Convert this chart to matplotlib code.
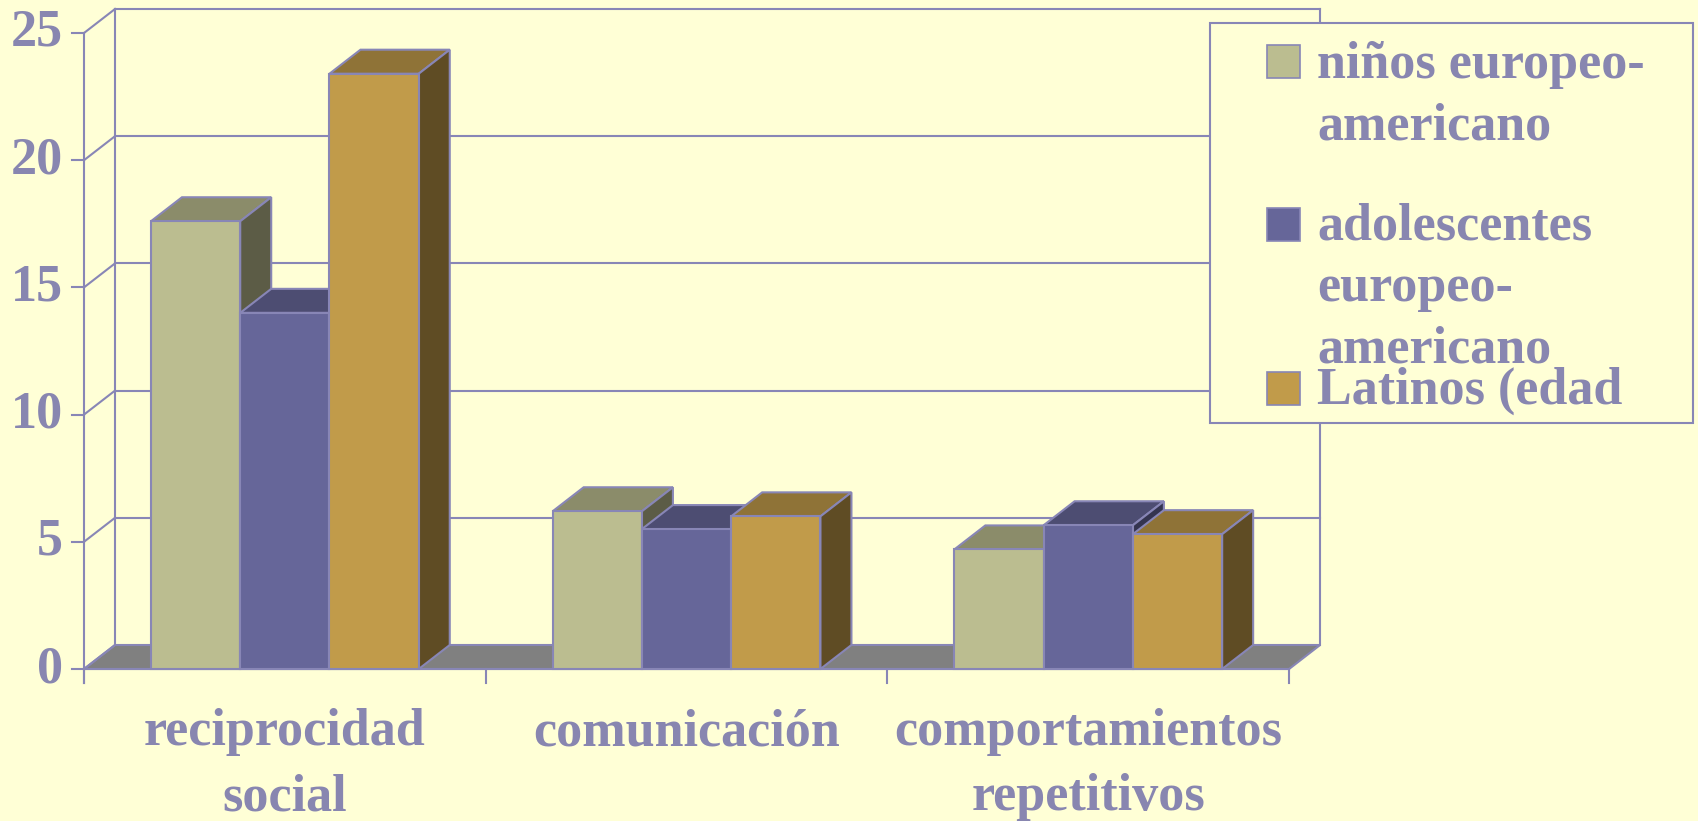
import matplotlib
matplotlib.use("Agg")
import matplotlib.pyplot as plt
from matplotlib.patches import Polygon, Rectangle

# data
categories = ["reciprocidad\nsocial", "comunicación", "comportamientos\nrepetitivos"]
series = ["niños europeo-\namericano",
          "adolescentes\neuropeo-\namericano",
          "Latinos (edad"]
ninos = [17.6, 6.2, 4.7]
adolescentes = [14.0, 5.5, 5.65]
latinos = [23.4, 6.0, 5.3]
values = [ninos, adolescentes, latinos]
yticks = [0, 5, 10, 15, 20, 25]

# colours: front, top, side
faces = [("#bbbd90", "#8b8c6a", "#5c5c46"),
         ("#666699", "#4d4d72", "#34344f"),
         ("#c19b4a", "#8f7337", "#5f4c24")]
BG = "#ffffd6"
LINE = "#8886b6"
TXT = "#8886b0"
FLOOR = "#808080"

FONT = dict(family="Liberation Serif", weight="bold", size=37.5, color=TXT)

W, H = 1698, 821
fig = plt.figure(figsize=(W / 100, H / 100), dpi=100, facecolor=BG)
ax = fig.add_axes([0, 0, 1, 1])
ax.set_facecolor(BG)
ax.axis("off")

# pixel scale of the plot area
x_px = 401.7        # px per category
y_px = 25.44        # px per unit
x0_px, y0_px = 84, 669
left = -0.5 - x0_px / x_px
bottom = -(H - y0_px) / y_px
ax.set_xlim(left, left + W / x_px)
ax.set_ylim(bottom, bottom + H / y_px)

DX = 31 / x_px      # depth offset
DY = 24 / y_px
ymax = yticks[-1]
n = len(categories)
xl, xr = -0.5, n - 0.5
lw = 1.5

# floor
ax.add_patch(Polygon([(xl, 0), (xr, 0), (xr + DX, DY), (xl + DX, DY)],
                     closed=True, facecolor=FLOOR, edgecolor=LINE, lw=lw, zorder=1))

# walls and gridlines
for v in yticks[1:]:
    ax.plot([xl + DX, xr + DX], [v + DY, v + DY], color=LINE, lw=lw, zorder=1)
for v in yticks:
    ax.plot([xl, xl + DX], [v, v + DY], color=LINE, lw=lw, zorder=1)
ax.plot([xl + DX, xl + DX], [DY, ymax + DY], color=LINE, lw=lw, zorder=1)
ax.plot([xr + DX, xr + DX], [DY, ymax + DY], color=LINE, lw=lw, zorder=1)

# axis lines and ticks
tick_x = 12 / x_px
tick_y = 14 / y_px
ax.plot([xl, xl], [-tick_y, ymax], color=LINE, lw=lw, zorder=2)
ax.plot([xl, xr], [0, 0], color=LINE, lw=lw, zorder=2)
for v in yticks:
    ax.plot([xl - tick_x, xl], [v, v], color=LINE, lw=lw, zorder=2)
    ax.text(xl - 21 / x_px, v, str(v), ha="right", va="center", **FONT)
for k in range(n + 1):
    ax.plot([xl + k, xl + k], [0, -tick_y], color=LINE, lw=lw, zorder=2)

# category labels
for i, cat in enumerate(categories):
    for j, line in enumerate(cat.split("\n")):
        ax.text(i, (y0_px - 745 - 65 * j) / y_px, line,
                ha="center", va="baseline", **FONT)

# bars with top and side faces
w = 1 / 4.5
for s, vals in enumerate(values):
    front, top, side = faces[s]
    xs = [i + (s - 1) * w for i in range(n)]
    ax.bar(xs, vals, width=w, color=front, edgecolor=LINE, lw=lw, zorder=4 + 2 * s)
    for x, v in zip(xs, vals):
        l, r = x - w / 2, x + w / 2
        ax.add_patch(Polygon([(l, v), (r, v), (r + DX, v + DY), (l + DX, v + DY)],
                             closed=True, facecolor=top, edgecolor=LINE, lw=lw,
                             zorder=3 + 2 * s))
        ax.add_patch(Polygon([(r, 0), (r + DX, DY), (r + DX, v + DY), (r, v)],
                             closed=True, facecolor=side, edgecolor=LINE, lw=lw,
                             zorder=3 + 2 * s))

# legend box
def fx(p):
    return p / W


def fy(p):
    return 1 - p / H


fig.patches.append(Rectangle((fx(1210), fy(423)), fx(1693) - fx(1210), fy(23) - fy(423),
                             transform=fig.transFigure, facecolor=BG, edgecolor=LINE,
                             lw=lw, zorder=20))
first_base = [78, 240, 404]
square_top = [45, 208, 372]
for s, name in enumerate(series):
    fig.patches.append(Rectangle((fx(1267), fy(square_top[s] + 33)), fx(33) , 33 / H,
                                 transform=fig.transFigure, facecolor=faces[s][0],
                                 edgecolor=LINE, lw=1.2, zorder=21))
    for j, line in enumerate(name.split("\n")):
        fig.text(fx(1317), fy(first_base[s] + 61 * j), line,
                 ha="left", va="baseline", zorder=22, **FONT)

fig.savefig("out.png", dpi=100, facecolor=BG)
